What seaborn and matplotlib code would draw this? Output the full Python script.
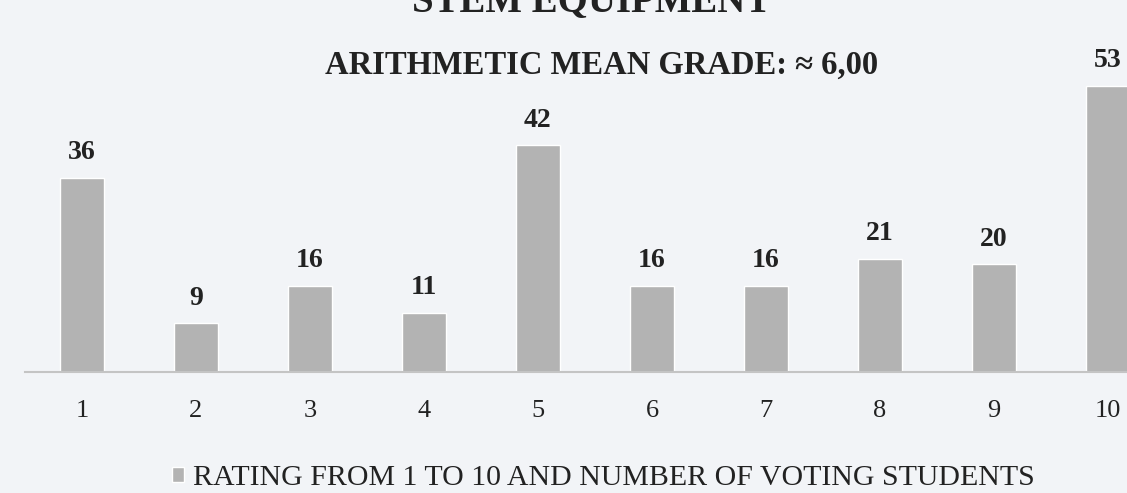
import matplotlib
matplotlib.use("Agg")
import matplotlib.pyplot as plt
import seaborn as sns
import pandas as pd

# data
ratings = ["1", "2", "3", "4", "5", "6", "7", "8", "9", "10"]
students = [36, 9, 16, 11, 42, 16, 16, 21, 20, 53]

title = "STEM EQUIPMENT"
subtitle = "ARITHMETIC MEAN GRADE: \u2248 6,00"
series_name = "RATING FROM 1 TO 10 AND NUMBER OF VOTING STUDENTS"

bg = "#f2f4f7"
bar_color = "#b3b3b3"

sns.set_style("white", {"axes.facecolor": bg, "figure.facecolor": bg})
plt.rcParams['font.family'] = ['Liberation Serif', 'DejaVu Serif']

df = pd.DataFrame({"rating": ratings, "students": students})

fig = plt.figure(figsize=(11.27, 4.93), dpi=100)
ax = fig.add_axes([25 / 1127, 121 / 493, 1140 / 1127, 313 / 493])

sns.barplot(data=df, x="rating", y="students", color=bar_color, width=0.39,
            saturation=1, label=series_name, ax=ax)

ax.bar_label(ax.containers[0], padding=9, fontsize=20, fontweight="bold",
             color="#222222")

ax.set_xlim(-0.5, 9.5)
ax.set_ylim(0, 58)
ax.set_xlabel("")
ax.set_ylabel("")
ax.set_yticks([])
ax.tick_params(axis="x", length=0, pad=20, labelsize=19, labelcolor="#222222")
for s in ["top", "right", "left"]:
    ax.spines[s].set_visible(False)
ax.spines["bottom"].set_color("#c4c4c4")
ax.spines["bottom"].set_linewidth(1.5)

fig.text(0.525, 0.978, title, ha="center", va="baseline", fontsize=28,
         fontweight="bold", color="#222222")
fig.text(0.534, 0.85, subtitle, ha="center", va="baseline", fontsize=23.5,
         fontweight="bold", color="#222222")

ax.legend(loc="center", bbox_to_anchor=(0.535, 0.03), bbox_transform=fig.transFigure,
          frameon=False, fontsize=21.5, handlelength=0.4, handleheight=0.4,
          handletextpad=0.3, labelcolor="#222222")

fig.savefig("out.png", dpi=100, facecolor=bg)
